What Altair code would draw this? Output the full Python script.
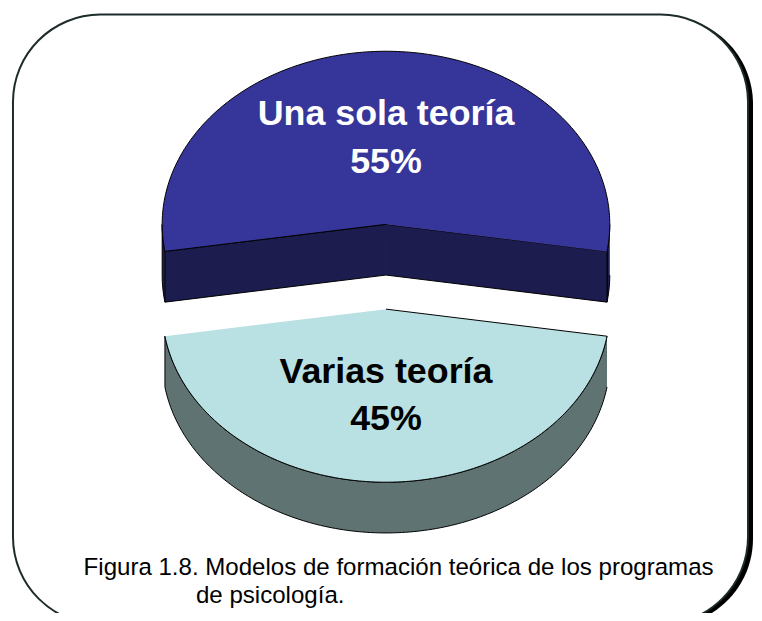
import altair as alt
import numpy as np
import pandas as pd

# ---------------- data ----------------
categories = ["Una sola teoría", "Varias teoría"]
values = [55, 45]
top_colors = ["#36369A", "#B9E0E3"]
side_colors = ["#1C1C4E", "#5F7373"]
text_colors = ["#FFFFFF", "#000000"]
caption_lines = [
    "Figura 1.8. Modelos de formación teórica de los programas",
    "de psicología.",
]

# ---------------- layout ----------------
W, H = 750, 605          # plot area (pixels)
X0, Y0 = 8, 8            # page margin -> data units are page pixels
CX, CY = 388, 266.5      # pie centre
RX, RY = 225, 174        # ellipse radii of the tilted pie
DEPTH = 51               # pie thickness
EXPLODE = 0.245          # explosion (fraction of radius)
FIRST_BISECTOR = -90     # first slice centred at the top
LABEL_R = 0.5

total = sum(values)
spans = [v / total * 360 for v in values]


def arc(ox, oy, a0, a1, dy=0.0):
    n = max(2, int(abs(a1 - a0)) + 1)
    t = np.radians(np.linspace(a0, a1, n))
    return list(zip(ox + RX * np.cos(t), oy + RY * np.sin(t) + dy))


slices = []
a = FIRST_BISECTOR - spans[0] / 2
for i, (cat, v) in enumerate(zip(categories, values)):
    a0, a1 = a, a + spans[i]
    a = a1
    b = np.radians((a0 + a1) / 2)
    ox = CX + EXPLODE * RX * np.cos(b)
    oy = CY + EXPLODE * RY * np.sin(b)
    slices.append(dict(i=i, cat=cat, v=v, a0=a0, a1=a1, b=b, ox=ox, oy=oy))

# back slices first
slices.sort(key=lambda s: np.sin(s["b"]))

polys = []  # (points, fill)
for s in slices:
    i, a0, a1, ox, oy = s["i"], s["a0"], s["a1"], s["ox"], s["oy"]
    # outer wall, front-facing parts
    for k in range(-2, 3):
        st = max(a0, 360 * k)
        en = min(a1, 360 * k + 180)
        if en > st:
            pts = arc(ox, oy, st, en) + arc(ox, oy, en, st, DEPTH)
            polys.append((pts, side_colors[i]))
    # radial cut faces
    for ang, sign in ((a0, -1), (a1, 1)):
        r = np.radians(ang)
        if sign * np.cos(r) > 0:
            rx_, ry_ = ox + RX * np.cos(r), oy + RY * np.sin(r)
            pts = [(ox, oy), (rx_, ry_), (rx_, ry_ + DEPTH), (ox, oy + DEPTH)]
            polys.append((pts, side_colors[i]))
    # top face
    pts = [(ox, oy)] + arc(ox, oy, a0, a1)
    polys.append((pts, top_colors[i]))

xs = alt.Scale(domain=[X0, X0 + W], nice=False, zero=False)
ys = alt.Scale(domain=[Y0, Y0 + H], nice=False, zero=False, reverse=True)

layers = []

# frame (shadow + rounded box)
dummy = pd.DataFrame({"f": [1]})
layers.append(
    alt.Chart(dummy).mark_rect(fill="#000000", cornerRadius=88).encode(
        x=alt.value(18 - X0), x2=alt.value(757 - X0),
        y=alt.value(15 - Y0), y2=alt.value(628 - Y0))
)
layers.append(
    alt.Chart(dummy).mark_rect(fill="#FFFFFF", stroke="#1E2B2B", strokeWidth=2,
                               cornerRadius=88).encode(
        x=alt.value(13 - X0), x2=alt.value(752 - X0),
        y=alt.value(13 - Y0), y2=alt.value(626 - Y0))
)

for pts, fill in polys:
    df = pd.DataFrame({"x": [p[0] for p in pts], "y": [p[1] for p in pts],
                       "o": list(range(len(pts)))})
    layers.append(
        alt.Chart(df).mark_line(fill=fill, stroke="#000000", strokeWidth=1,
                                strokeJoin="miter").encode(
            x=alt.X("x:Q", scale=xs, axis=None),
            y=alt.Y("y:Q", scale=ys, axis=None),
            order=alt.Order("o:Q"))
    )

# labels
lab = pd.DataFrame({
    "name": [s["cat"] for s in slices],
    "pct": [f"{s['v']}%" for s in slices],
    "x": [s["ox"] + LABEL_R * RX * np.cos(s["b"]) for s in slices],
    "y": [s["oy"] + LABEL_R * RY * np.sin(s["b"]) for s in slices],
    "tc": [text_colors[s["i"]] for s in slices],
})
for field, dy in (("name", -24), ("pct", 24)):
    layers.append(
        alt.Chart(lab).mark_text(font="Liberation Sans", fontWeight="bold",
                                 fontSize=36, baseline="middle", align="center",
                                 dy=dy).encode(
            x=alt.X("x:Q", scale=xs, axis=None),
            y=alt.Y("y:Q", scale=ys, axis=None),
            text=alt.Text(f"{field}:N"),
            color=alt.Color("tc:N", scale=None))
    )

# caption
cap = pd.DataFrame({"t": caption_lines, "cx": [84 - X0, 197 - X0], "cy": [576 - Y0, 605 - Y0]})
layers.append(
    alt.Chart(cap).mark_text(font="Liberation Sans", fontSize=24.2, align="left",
                             baseline="alphabetic", color="#000000").encode(
        x=alt.X("cx:Q", scale=None, axis=None),
        y=alt.Y("cy:Q", scale=None, axis=None),
        text="t:N")
)

chart = alt.layer(*layers).properties(
    width=W, height=H, padding=0,
    autosize=alt.AutoSizeParams(type="none"),
    background="#FFFFFF",
).configure_view(stroke=None)

chart.save("out.html", embed_options={"renderer": "svg", "actions": False})
